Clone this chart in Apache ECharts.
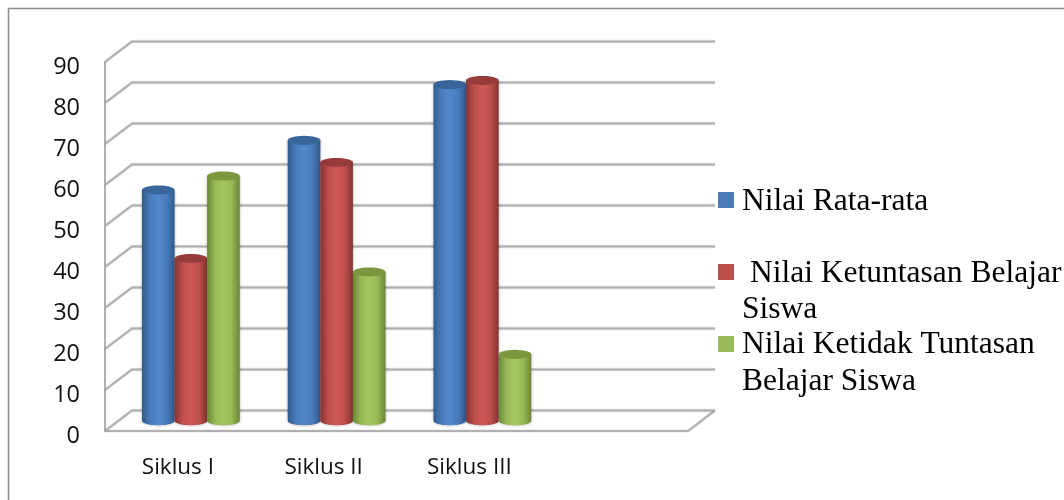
<!DOCTYPE html>
<html><head><meta charset="utf-8">
<style>html,body{margin:0;padding:0;background:#fff}#c{width:1064px;height:500px}</style>
<script src="https://cdn.jsdelivr.net/npm/echarts@6/dist/echarts.min.js"></script>
</head><body><div id="c"></div>
<script>
const categories = ['Siklus I', 'Siklus II', 'Siklus III', ''];
const yTicks = [0, 10, 20, 30, 40, 50, 60, 70, 80, 90];
const nilaiRata = [56.3, 68.4, 82];
const nilaiTuntas = [39.6, 63, 83];
const nilaiTidakTuntas = [59.7, 36.3, 16.2];
const seriesNames = ['Nilai Rata-rata', ' Nilai Ketuntasan Belajar\nSiswa', 'Nilai Ketidak Tuntasan\nBelajar Siswa'];
const seriesColors = [
  {top:'#38659a', dark:'#315a8c', mid:'#4a7cba', light:'#5288cc'},
  {top:'#953b39', dark:'#853432', mid:'#bd4f4c', light:'#cf5957'},
  {top:'#7b973f', dark:'#6c8737', mid:'#98b957', light:'#a6c75f'}
];
const DX = 27, DY = 20.5;
const LINE = {stroke:'#b0b0b0', lineWidth:2, fill:null, shadowBlur:1.5, shadowColor:'rgba(0,0,0,0.25)'};

function wallItem(params, api) {
  const v = api.value(0);
  const p = api.coord([0, v]);
  const cs = params.coordSys;
  const x0 = cs.x, x1 = cs.x + cs.width;
  const y = p[1];
  if (v === 0) {
    return {type:'polyline', silent:true, shape:{points:[[x0,y],[x1,y],[x1+DX,y-DY]]}, style:LINE};
  }
  return {type:'polyline', silent:true, shape:{points:[[x0,y],[x0+DX,y-DY],[x1+DX,y-DY]]}, style:LINE};
}
function floorBackItem(params, api) {
  const p = api.coord([0, 0]);
  const cs = params.coordSys;
  return {type:'polyline', silent:true,
    shape:{points:[[cs.x,p[1]],[cs.x+DX,p[1]-DY],[cs.x+cs.width+DX,p[1]-DY]]}, style:LINE};
}
function ell(cx, cy, rx, ry, a0, a1, n) {
  const pts = [];
  for (let i = 0; i <= n; i++) {
    const a = a0 + (a1 - a0) * i / n;
    pts.push([cx + rx * Math.cos(a), cy + ry * Math.sin(a)]);
  }
  return pts;
}
function cylinder(si) {
  return function (params, api) {
    const c = seriesColors[si];
    const cat = api.value(0), val = api.value(1);
    const band = api.size([1, 0])[0];
    const w = band * 0.2235;
    const top = api.coord([cat, val]);
    const base = api.coord([cat, 0]);
    const cx = top[0] + DX / 2 - 0.5 + (si - 1) * w;
    const ty = top[1] - DY / 2;
    const by = base[1] - DY / 2;
    const rx = w / 2, ry = 4.5;
    const pts = [[cx - rx, ty]].concat(ell(cx, by, rx, ry, Math.PI, 0, 24)).concat([[cx + rx, ty]]);
    return {type:'group', children:[
      {type:'polygon', shape:{points:pts}, style:{
        shadowBlur:3, shadowColor:'rgba(0,0,0,0.35)',
        fill:{type:'linear', x:0, y:0, x2:1, y2:0, colorStops:[
          {offset:0, color:c.dark},{offset:0.25, color:c.mid},{offset:0.5, color:c.light},
          {offset:0.75, color:c.mid},{offset:1, color:c.dark}]}}},
      {type:'polygon', shape:{points:ell(cx, ty, rx, ry, 0, Math.PI * 2, 32)}, style:{fill:c.top}}
    ]};
  };
}
const legendText = (text, left, top) => ({type:'text', left, top, silent:true,
  style:{text, fontFamily:'Liberation Serif', fontSize:31.5, fill:'#000'}});
const option = {
  animation:false,
  backgroundColor:'#fff',
  grid:{left:105, right:376, top:62, bottom:69, containLabel:false},
  xAxis:{type:'category', data:categories, boundaryGap:true,
    axisLine:{show:false}, axisTick:{show:false}, splitLine:{show:false},
    axisLabel:{interval:0, margin:25, fontFamily:'Open Sans', fontSize:22.5, color:'#111'}},
  yAxis:{type:'value', min:0, max:90, interval:10,
    axisLine:{show:true, lineStyle:{color:'#b0b0b0', width:2}}, axisTick:{show:false}, splitLine:{show:false},
    axisLabel:{margin:25, verticalAlign:'top', lineHeight:10, fontFamily:'Open Sans', fontSize:23.5, color:'#111'}},
  legend:[0,1,2].map(i => ({
    data:[seriesNames[i]], orient:'horizontal', left:713, top:[179,251,323][i],
    itemWidth:16, itemHeight:16, itemGap:0, icon:'rect', selectedMode:false,
    formatter:() => ' ',
    textStyle:{fontFamily:'Liberation Serif', fontSize:31.5, color:'#000'}
  })),
  graphic:[
    {type:'line', shape:{x1:8, y1:8.5, x2:1064, y2:8.5}, style:{stroke:'#8c8c8c', lineWidth:1.6}, silent:true},
    {type:'line', shape:{x1:8.5, y1:8, x2:8.5, y2:500}, style:{stroke:'#8c8c8c', lineWidth:1.6}, silent:true},
    legendText('Nilai Rata-rata', 742, 186),
    legendText('Nilai Ketuntasan Belajar', 750, 258),
    legendText('Siswa', 742, 294),
    legendText('Nilai Ketidak Tuntasan', 742, 329),
    legendText('Belajar Siswa', 742, 366)
  ],
  series:[
    {type:'custom', name:'grid', renderItem:wallItem, data:yTicks.map(v => [v]), encode:{y:0}, silent:true, z:1, clip:false},
    {type:'custom', name:'floor', renderItem:floorBackItem, data:[[0]], silent:true, z:1, clip:false},
    ...[nilaiRata, nilaiTuntas, nilaiTidakTuntas].map((arr, si) => ({
      type:'custom', name:seriesNames[si], renderItem:cylinder(si), clip:false, z:3+si,
      itemStyle:{color:seriesColors[si].mid},
      encode:{x:0, y:1},
      data:arr.map((v, i) => [i, v])
    }))
  ]
};
echarts.init(document.getElementById('c'), null, {renderer:'canvas'}).setOption(option);
</script></body></html>
